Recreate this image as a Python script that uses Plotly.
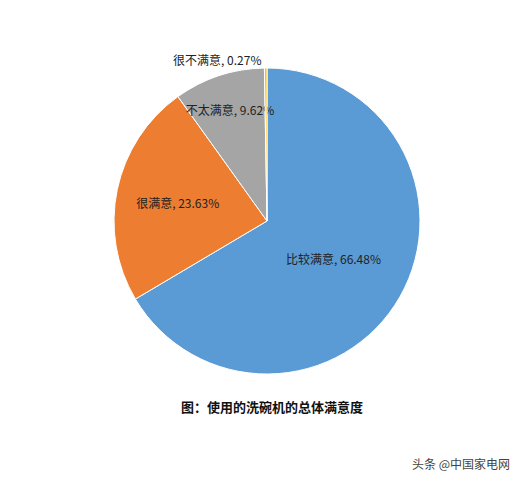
import plotly.graph_objects as go

labels = ["比较满意", "很满意", "不太满意", "很不满意"]
values = [66.48, 23.63, 9.62, 0.27]
colors = ["#5b9bd5", "#ed7d31", "#a5a5a5", "#ffc000"]
title_text = "图：使用的洗碗机的总体满意度"
watermark = "头条 @中国家电网"

font = "Noto Sans CJK SC"

fig = go.Figure()
fig.add_trace(go.Pie(
    labels=labels, values=values, sort=False, direction="clockwise", rotation=0,
    marker=dict(colors=colors, line=dict(color="white", width=1)),
    texttemplate="%{label}, %{value:.2f}%",
    textposition=["inside", "inside", "inside", "outside"],
    insidetextorientation="horizontal",
    textfont=dict(family=font, size=12, color="#222222"),
    showlegend=False, hoverinfo="label+value",
    domain=dict(x=[106/528, 412/528], y=[1-366/486, 1-60/486]),
))

fig.add_annotation(x=0.5, y=1-410/486, xref="paper", yref="paper", text="<b>" + title_text + "</b>",
                   showarrow=False, font=dict(family=font, size=13, color="#111111"))
fig.add_annotation(x=0.955, y=1-466/486, xref="paper", yref="paper", xanchor="right", text=watermark,
                   showarrow=False, font=dict(family=font, size=12, color="#444444"))

fig.update_layout(width=528, height=486, margin=dict(l=0, r=0, t=0, b=0),
                  uniformtext=dict(minsize=12, mode="show"),
                  paper_bgcolor="white", plot_bgcolor="white")
fig.write_html("out.html")
